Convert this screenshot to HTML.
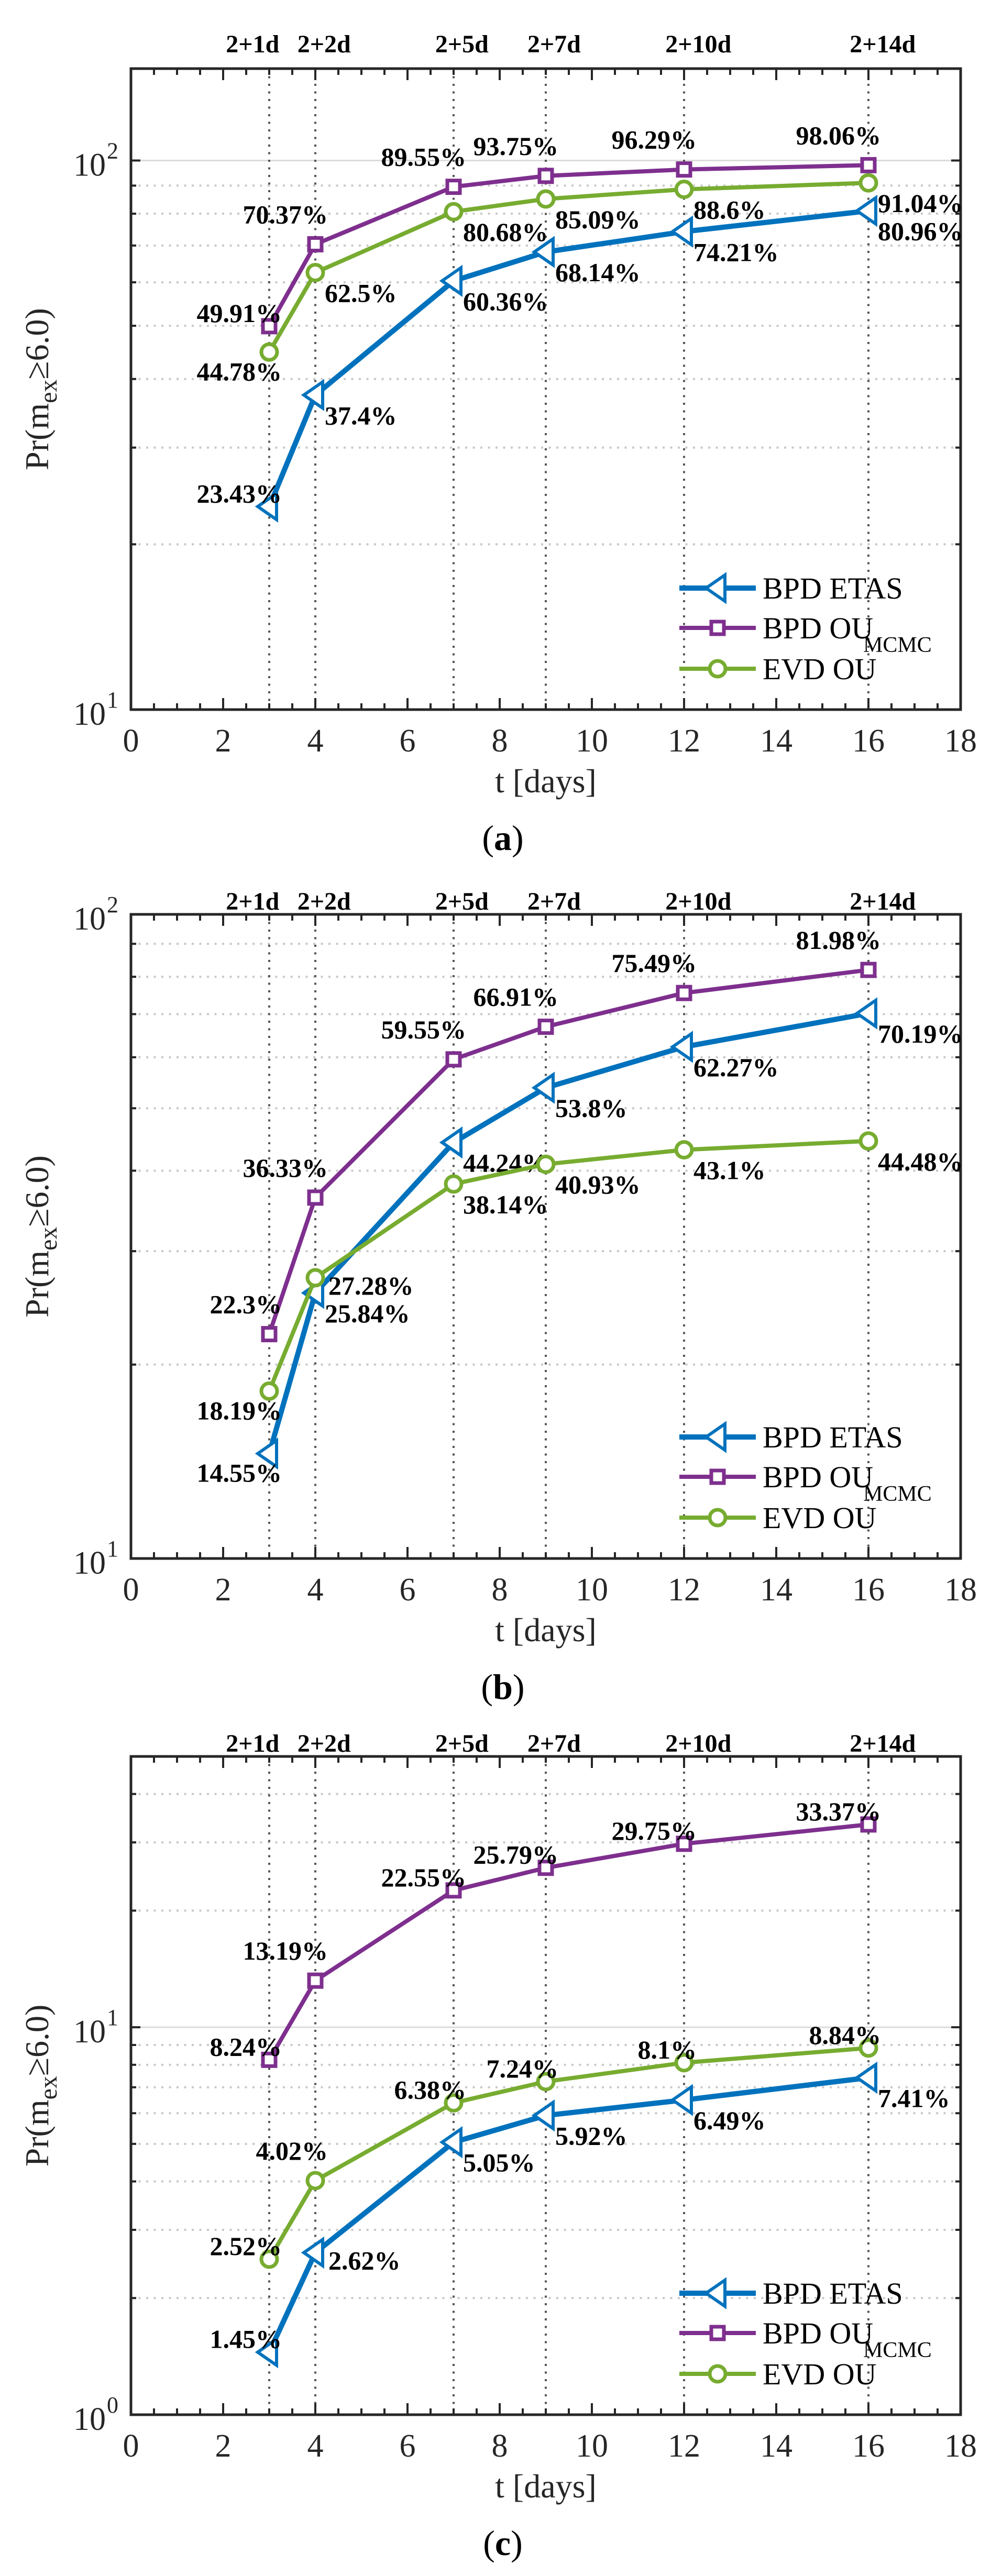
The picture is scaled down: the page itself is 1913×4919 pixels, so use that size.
<!DOCTYPE html>
<html><head><meta charset="utf-8">
<style>
html,body{margin:0;padding:0;background:#fff;}
svg{display:block;font-family:"Liberation Serif",serif;}
</style></head>
<body>
<svg id="fig" width="1913" height="4919" viewBox="0 0 1913 4919" xmlns="http://www.w3.org/2000/svg"></svg>
<script>
// ---- data ----
const days = [3, 4, 7, 9, 12, 16];
const dayLabels = ["2+1d","2+2d","2+5d","2+7d","2+10d","2+14d"];
const dayLabelX = [2.64, 4.19, 7.18, 9.18, 12.31, 16.31];
const xTicks = [0,2,4,6,8,10,12,14,16,18];
const seriesNames = ["BPD ETAS","BPD OU","EVD OU"];

const etasA = [23.43, 37.4, 60.36, 68.14, 74.21, 80.96];
const ouA   = [49.91, 70.37, 89.55, 93.75, 96.29, 98.06];
const evdA  = [44.78, 62.5, 80.68, 85.09, 88.6, 91.04];

const etasB = [14.55, 25.84, 44.24, 53.8, 62.27, 70.19];
const ouB   = [22.3, 36.33, 59.55, 66.91, 75.49, 81.98];
const evdB  = [18.19, 27.28, 38.14, 40.93, 43.1, 44.48];

const etasC = [1.45, 2.62, 5.05, 5.92, 6.49, 7.41];
const ouC   = [8.24, 13.19, 22.55, 25.79, 29.75, 33.37];
const evdC  = [2.52, 4.02, 6.38, 7.24, 8.1, 8.84];

// label placement codes
const placeA = [["l","rd","rd","rd","rd","rd"],["l","lu","lu","lu","lu","lu"],["ld","rd","rd","rd","rd","rd"]];
const placeB = [["ld","rd","rd","rd","rd","rd"],["lu","lu","lu","lu","lu","lu"],["ld","r","rd","rd","rd","rd"]];
const placeC = [["l","r","rd","rd","rd","rd"],["l","lu","l","l","l","l"],["l","lu","l","l","l","l"]];

const NS="http://www.w3.org/2000/svg";
const svg=document.getElementById('fig');
const COLORS=["#0072BD","#7E2F8E","#77AC30"];
const AX="#262626";

function mk(tag,attrs,parent){
  const e=document.createElementNS(NS,tag);
  for(const k in attrs) e.setAttribute(k,attrs[k]);
  (parent||svg).appendChild(e);
  return e;
}

const panels=[
  {id:"a",top:131,bot:1355,ymin:10,ymax:147,topLab:100,series:[etasA,ouA,evdA],place:placeA,decades:[10,100]},
  {id:"b",top:1746,bot:2976,ymin:10,ymax:100,topLab:1737,series:[etasB,ouB,evdB],place:placeB,decades:[10,100]},
  {id:"c",top:3354,bot:4611,ymin:1,ymax:50,topLab:3345,series:[etasC,ouC,evdC],place:placeC,decades:[1,10]}
];
const L=250,R=1834;
const offs={l:{a:"end",dx:24,dy:-8},lu:{a:"end",dx:24,dy:-40},ld:{a:"end",dx:24,dy:54},rd:{a:"start",dx:18,dy:56},r:{a:"start",dx:25,dy:32}};
const LW=[10,8,8];

panels.forEach(P=>{
  const g=mk('g',{});
  
  
  const xs=v=>L+(v-0)/18*(R-L);
  const lmin=Math.log10(P.ymin),lmax=Math.log10(P.ymax);
  const ys=v=>P.bot-(Math.log10(v)-lmin)/(lmax-lmin)*(P.bot-P.top);

  const grid=mk('g',{},g);
  
  
  [1,10,100].forEach(d=>{
    for(let m=1;m<10;m++){
      const v=d*m;
      if(v<=P.ymin||v>=P.ymax) continue;
      const y=ys(v);
      if(m===1){
        mk('line',{x1:L,x2:R,y1:y,y2:y,stroke:"#dcdcdc","stroke-width":3},grid);
        mk('line',{x1:L,x2:L+18,y1:y,y2:y,stroke:AX,"stroke-width":4},grid);
        mk('line',{x1:R-18,x2:R,y1:y,y2:y,stroke:AX,"stroke-width":4},grid);
      } else {
        mk('line',{x1:L,x2:R,y1:y,y2:y,stroke:"#c8c8c8","stroke-width":4,"stroke-dasharray":"4 10.5"},grid);
        mk('line',{x1:L,x2:L+10,y1:y,y2:y,stroke:AX,"stroke-width":4},grid);
        mk('line',{x1:R-10,x2:R,y1:y,y2:y,stroke:AX,"stroke-width":4},grid);
      }
    }
  });
  P.decades.forEach(d=>{
    const y=ys(d);
    const t=mk('text',{x:202,y:y+29,"font-size":62,fill:AX,"text-anchor":"end"},g);
    t.textContent="10";
    
    
    const s=mk('text',{x:204,y:y-4,"font-size":44,fill:AX},g);
    s.textContent=String(Math.round(Math.log10(d)));
  });
  days.forEach((d,i)=>{
    const vl=mk('line',{x1:xs(d),x2:xs(d),y1:P.top,y2:P.bot,stroke:"#555","stroke-width":4,"stroke-dasharray":"4 10.5"},g);
    
    
  });
  dayLabels.forEach((lab,i)=>{
    const t=mk('text',{x:xs(dayLabelX[i]),y:P.topLab,"font-size":48,"font-weight":"bold","text-anchor":"middle",fill:"#000"},g);
    t.textContent=lab;
    
    
  });
  for(let v=0.5;v<18;v+=0.5){
    const major=(v%2===0);
    const len=major?22:12;
    mk('line',{x1:xs(v),x2:xs(v),y1:P.bot,y2:P.bot-len,stroke:AX,"stroke-width":4},g);
    mk('line',{x1:xs(v),x2:xs(v),y1:P.top,y2:P.top+len,stroke:AX,"stroke-width":4},g);
  }
  xTicks.forEach(v=>{
    const t=mk('text',{x:xs(v),y:P.bot+80,"font-size":62,"text-anchor":"middle",fill:AX},g);
    t.textContent=String(v);
    
    
  });
  const fr=mk('rect',{x:L,y:P.top,width:R-L,height:P.bot-P.top,fill:"none",stroke:AX,"stroke-width":5},g);
  
  

  P.series.forEach((vals,si)=>{
    const sg=mk('g',{},g);
    
    
    const pts=vals.map((v,i)=>xs(days[i])+","+ys(v)).join(" ");
    mk('polyline',{points:pts,fill:"none",stroke:COLORS[si],"stroke-width":LW[si],"stroke-linejoin":"round"},sg);
    vals.forEach((v,i)=>{
      const x=xs(days[i]),y=ys(v);
      drawMarker(si,x,y,sg);
      const o=offs[P.place[si][i]];
      const t=mk('text',{x:x+o.dx,y:y+o.dy,"font-size":50,"font-weight":"bold","text-anchor":o.a,fill:"#000"},sg);
      t.textContent=v+"%";
      
      
    });
  });

  const lg=mk('g',{},g);
  
  
  const rows=[-232,-156,-78];
  rows.forEach((dy,si)=>{
    const y=P.bot+dy;
    mk('line',{x1:1297,x2:1443,y1:y,y2:y,stroke:COLORS[si],"stroke-width":LW[si]},lg);
    drawMarker(si,1370,y,lg);
    const t=mk('text',{x:1456,y:y+20,"font-size":58,fill:"#000"},lg);
    t.textContent=seriesNames[si];
    
    
    if(si===1){
      const s=mk('text',{x:1648,y:y+46,"font-size":42,fill:"#000"},lg);
      s.textContent="MCMC";
    }
  });

  const xt=mk('text',{x:1042,y:P.bot+158,"font-size":64,"text-anchor":"middle",fill:AX},g);
  xt.textContent="t [days]";
  
  
  const cy=(P.top+P.bot)/2;
  const yt=mk('text',{x:0,y:0,"font-size":64,"text-anchor":"middle",fill:AX,transform:`translate(92,${cy}) rotate(-90)`},g);
  
  
  yt.innerHTML='Pr(m<tspan font-size="48" dy="16">ex</tspan><tspan dy="-16">≥6.0)</tspan>';
  const cap=mk('text',{x:960,y:P.bot+268,"font-size":68,"text-anchor":"middle",fill:"#000"},g);
  
  
  cap.innerHTML='(<tspan font-weight="bold">'+P.id+'</tspan>)';
});

function drawMarker(si,x,y,parent){
  const c=COLORS[si];
  let m;
  if(si===0){
    m=mk('polygon',{points:`${x-22},${y} ${x+14},${y-25} ${x+14},${y+25}`,fill:"#fff",stroke:c,"stroke-width":6},parent);
  } else if(si===1){
    m=mk('rect',{x:x-12,y:y-12,width:24,height:24,fill:"#fff",stroke:c,"stroke-width":7},parent);
  } else {
    m=mk('circle',{cx:x,cy:y,r:15,fill:"#fff",stroke:c,"stroke-width":7},parent);
  }
  
  
}
</script>
</body></html>
